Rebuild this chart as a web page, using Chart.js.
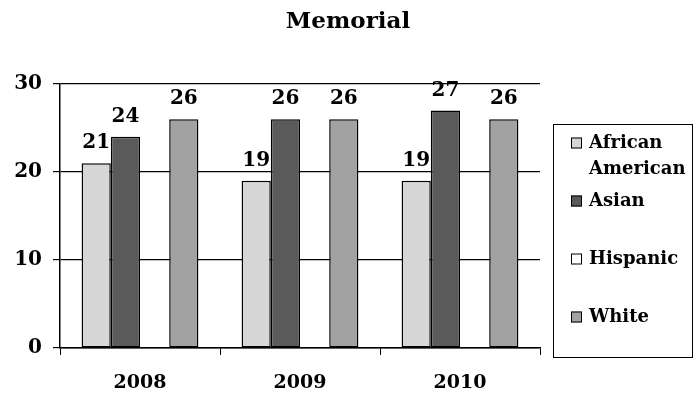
<!DOCTYPE html>
<html>
<head>
<meta charset="utf-8">
<title>Memorial</title>
<script src="https://cdn.jsdelivr.net/npm/chart.js@4.4.1/dist/chart.umd.min.js"></script>
<style>
  html, body { margin: 0; padding: 0; background: #fff; }
  #wrap { width: 696px; height: 396px; }
</style>
</head>
<body>
<div id="wrap"><canvas id="myChart" width="696" height="396"></canvas></div>
<script>
// chart data
const chartTitle = 'Memorial';
const years = ['2008', '2009', '2010'];
const africanAmerican = [21, 19, 19];
const asian = [24, 26, 27];
const hispanic = [null, null, null]; // no Hispanic bars in these years
const white = [26, 26, 26];
const yTicks = [0, 10, 20, 30];

const seriesNames = ['African American', 'Asian', 'Hispanic', 'White'];
const seriesColors = ['#d6d6d6', '#5a5a5a', '#ffffff', '#a2a2a2'];

const serif = 'DejaVu Serif';
Chart.defaults.font.family = serif;
Chart.defaults.color = '#000';

const makeSet = (i, values) => ({
    label: seriesNames[i],
    data: values,
    backgroundColor: seriesColors[i],
    borderColor: '#000',
    borderWidth: 1.5,
    borderSkipped: false
});

// title centered on the whole canvas, not just the plot
const titlePlugin = {
    id: 'canvasTitle',
    afterDraw(chart) {
        const c = chart.ctx;
        c.save();
        c.font = 'bold 23px "' + serif + '"';
        c.fillStyle = '#000';
        c.textAlign = 'center';
        c.textBaseline = 'middle';
        c.fillText(chartTitle, chart.width / 2, 22);
        c.restore();
    }
};

// value labels above each bar
const valueLabels = {
    id: 'valueLabels',
    afterDatasetsDraw(chart) {
        const c = chart.ctx;
        c.save();
        c.font = 'bold 20px "' + serif + '"';
        c.fillStyle = '#000';
        c.textAlign = 'center';
        c.textBaseline = 'middle';
        chart.data.datasets.forEach((ds, i) => {
            chart.getDatasetMeta(i).data.forEach((bar, j) => {
                const v = ds.data[j];
                if (v === null || v === undefined) return;
                c.fillText(String(v), bar.x, bar.y - 20);
            });
        });
        c.restore();
    }
};

// boxed legend on the right, long names wrap onto two lines
const boxLegend = {
    id: 'boxLegend',
    afterDraw(chart) {
        const c = chart.ctx;
        const box = { left: 553, top: 124, right: 692, bottom: 357 };
        c.save();
        c.strokeStyle = '#000';
        c.lineWidth = 1;
        c.strokeRect(box.left + 0.5, box.top + 0.5, box.right - box.left, box.bottom - box.top);

        c.font = 'bold 18px "' + serif + '"';
        c.textBaseline = 'middle';
        c.textAlign = 'left';
        const textX = 589;
        const maxW = box.right - textX - 3;
        let y = 143;
        chart.data.datasets.forEach(ds => {
            // swatch
            c.fillStyle = ds.backgroundColor;
            c.fillRect(571, y - 5.5, 11, 11);
            c.strokeStyle = '#000';
            c.strokeRect(571.5, y - 5, 10, 10);

            // wrap words
            const words = ds.label.split(' ');
            const lines = [];
            let line = '';
            words.forEach(w => {
                const test = line ? line + ' ' + w : w;
                if (line && c.measureText(test).width > maxW) {
                    lines.push(line);
                    line = w;
                } else {
                    line = test;
                }
            });
            lines.push(line);

            c.fillStyle = '#000';
            lines.forEach((l, k) => c.fillText(l, textX, y + k * 26));
            y += 58;
        });
        c.restore();
    }
};

const ctx = document.getElementById('myChart').getContext('2d');
const myChart = new Chart(ctx, {
    type: 'bar',
    data: {
        labels: years,
        datasets: [
            makeSet(0, africanAmerican),
            makeSet(1, asian),
            makeSet(2, hispanic),
            makeSet(3, white)
        ]
    },
    options: {
        responsive: false,
        animation: false,
        layout: {
            padding: { top: 84, right: 156, left: 0, bottom: 0 }
        },
        datasets: {
            bar: {
                categoryPercentage: 0.73,
                barPercentage: 1.0
            }
        },
        plugins: {
            legend: { display: false },
            title: { display: false },
            tooltip: { enabled: false }
        },
        scales: {
            x: {
                offset: true,
                grid: {
                    offset: true,
                    // only the right edge of the plot gets a full line
                    color: (c) => c.index === years.length ? '#000' : 'rgba(0,0,0,0)',
                    tickColor: '#000',
                    tickLength: 7,
                    lineWidth: 1
                },
                border: { display: true, color: '#000', width: 1.5 },
                ticks: {
                    font: { size: 19, weight: 'bold' },
                    color: '#000',
                    padding: 17
                },
                afterFit: (scale) => { scale.height = 48; }
            },
            y: {
                min: yTicks[0],
                max: yTicks[yTicks.length - 1],
                afterBuildTicks: (scale) => {
                    scale.ticks = yTicks.map(v => ({ value: v }));
                },
                grid: {
                    color: '#000',
                    tickColor: '#000',
                    tickLength: 7,
                    lineWidth: 1.2
                },
                border: { display: true, color: '#000', width: 1.5 },
                ticks: {
                    font: { size: 20, weight: 'bold' },
                    color: '#000',
                    padding: 11
                },
                afterFit: (scale) => { scale.width = 60; }
            }
        }
    },
    plugins: [titlePlugin, valueLabels, boxLegend]
});
</script>
</body>
</html>
